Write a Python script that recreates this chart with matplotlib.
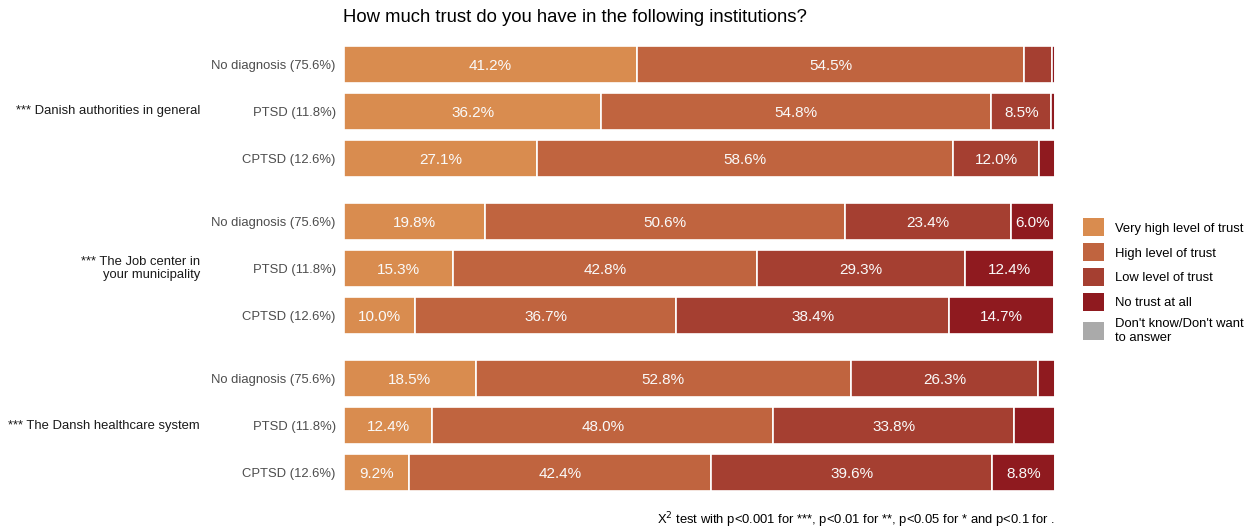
import matplotlib.pyplot as plt
from matplotlib.patches import Patch

plt.rcParams['font.family'] = ['Liberation Sans', 'DejaVu Sans']

institutions = ['*** Danish authorities in general',
                '*** The Job center in\nyour municipality',
                '*** The Dansh healthcare system']
groups = ['No diagnosis (75.6%)', 'PTSD (11.8%)', 'CPTSD (12.6%)']
levels = ['Very high level of trust', 'High level of trust', 'Low level of trust',
          'No trust at all', "Don't know/Don't want\nto answer"]
colors = ['#D98C4F', '#C0643F', '#A53F31', '#8F1A1F', '#AAAAAA']

# rows: institution x group, columns follow levels
very_high = [41.2, 36.2, 27.1, 19.8, 15.3, 10.0, 18.5, 12.4, 9.2]
high = [54.5, 54.8, 58.6, 50.6, 42.8, 36.7, 52.8, 48.0, 42.4]
low = [3.9, 8.5, 12.0, 23.4, 29.3, 38.4, 26.3, 33.8, 39.6]
no_trust = [0.4, 0.5, 2.3, 6.0, 12.4, 14.7, 2.4, 5.8, 8.8]
dont_know = [0, 0, 0, 0, 0, 0, 0, 0, 0]
series = [very_high, high, low, no_trust, dont_know]

fig = plt.figure(figsize=(12.55, 5.31), dpi=100)
ax = fig.add_axes([344 / 1255, 1 - 491 / 531, 711 / 1255, 445 / 531])

gap = 3.35
ypos = []
for g in range(3):
    for r in range(3):
        ypos.append(g * gap + r)

left = [0.0] * 9
for vals, col in zip(series, colors):
    ax.barh(ypos, vals, left=left, height=0.79, color=col, edgecolor='white', linewidth=1.2)
    for y, l, v in zip(ypos, left, vals):
        if v >= 6:
            ax.text(l + v / 2, y, f'{v:.1f}%', ha='center', va='center_baseline',
                    color='#FAFAFA', fontsize=11)
    left = [a + b for a, b in zip(left, vals)]

ax.set_xlim(0, 100)
ax.set_ylim(ypos[-1] + 0.395, ypos[0] - 0.395)
ax.set_yticks(ypos)
ax.set_yticklabels(groups * 3, fontsize=9.4, color='#4D4D4D')
ax.tick_params(axis='y', length=0, pad=6)
ax.set_xticks([])
for s in ax.spines.values():
    s.set_visible(False)

for g, name in enumerate(institutions):
    yc = g * gap + 1
    ax.text(-144 / 711 * 100, yc, name, ha='right', va='center', fontsize=9.4,
            color='#1A1A1A', transform=ax.transData, clip_on=False,
            linespacing=1.1)

fig.text(343 / 1255, 1 - 18 / 531, 'How much trust do you have in the following institutions?',
         ha='left', va='center', fontsize=13.3, color='black')

handles = [Patch(facecolor=c, edgecolor='none') for c in colors]
fig.legend(handles, levels, loc='center left', bbox_to_anchor=(1078 / 1255, 1 - 281 / 531),
           frameon=False, fontsize=9.4, handlelength=1.6, handleheight=1.75,
           labelspacing=0.52, handletextpad=0.8, borderaxespad=0)

fig.text(1055 / 1255, 1 - 520 / 531,
         'X$^2$ test with p<0.001 for ***, p<0.01 for **, p<0.05 for * and p<0.1 for .',
         ha='right', va='center', fontsize=9.4, color='black')

fig.savefig('out.png', dpi=100)
